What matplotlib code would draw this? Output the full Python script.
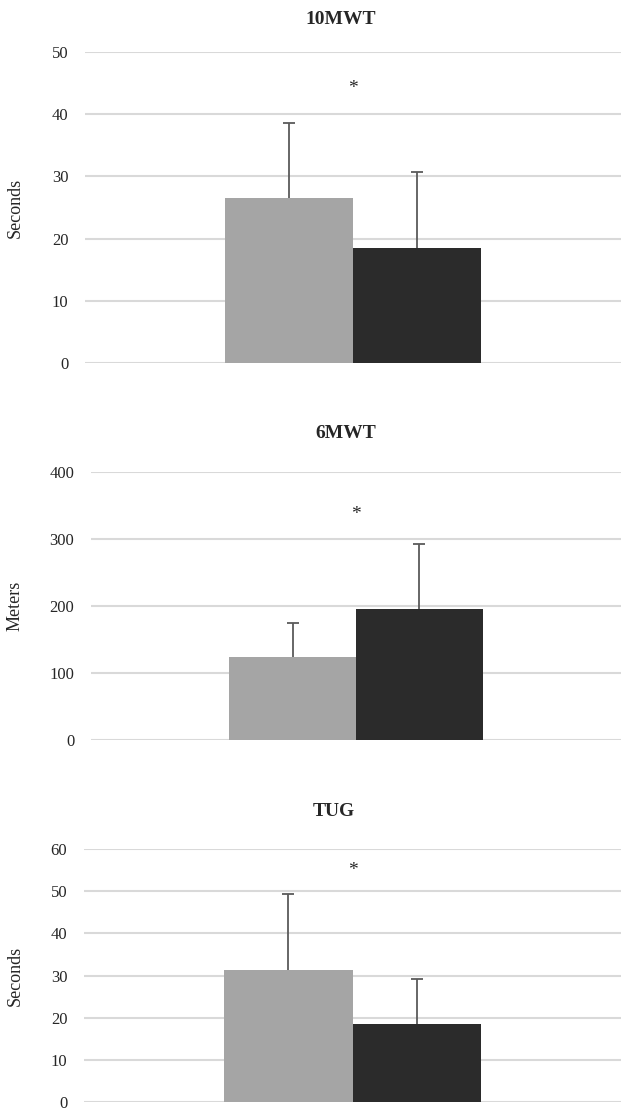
import matplotlib.pyplot as plt

# group means and standard deviations per outcome measure
tests = ["10MWT", "6MWT", "TUG"]
units = ["Seconds", "Meters", "Seconds"]
pre_mean = [26.5, 124.5, 31.4]
pre_sd = [12.1, 50.8, 17.9]
post_mean = [18.5, 195.7, 18.4]
post_sd = [12.2, 97.1, 10.7]
y_max = [50, 400, 60]
y_step = [10, 100, 10]
star_y = [44.2, 337, 55]

plt.rcParams['font.family'] = ['Liberation Serif', 'DejaVu Serif']

W, H = 621, 1111
fig = plt.figure(figsize=(W / 100, H / 100), dpi=100)

# axes boxes in pixels: left, top, bottom
boxes = [(85, 52, 363), (91, 472, 740), (84, 849, 1102)]
title_pos = [(341, 19), (346, 433), (334, 812)]

bar_w = 0.239
for i, name in enumerate(tests):
    left, top, bottom = boxes[i]
    ax = fig.add_axes([left / W, 1 - bottom / H, (W - left) / W, (bottom - top) / H])
    ax.set_xlim(-0.5, 0.5)
    ax.set_ylim(0, y_max[i])
    ax.set_yticks(range(0, y_max[i] + 1, y_step[i]))
    ax.set_xticks([])
    ax.yaxis.grid(True, color='#d9d9d9', linewidth=1.5)
    ax.set_axisbelow(True)
    for s in ax.spines.values():
        s.set_visible(False)
    ax.tick_params(axis='y', length=0, pad=12, labelsize=12, labelcolor='#262626')

    xs = [-bar_w / 2, bar_w / 2]
    means = [pre_mean[i], post_mean[i]]
    sds = [pre_sd[i], post_sd[i]]
    ax.bar(xs, means, width=bar_w, color=['#a5a5a5', '#2b2b2b'], zorder=3)

    # upper whisker only, with a cap at its end
    tops = [m + s for m, s in zip(means, sds)]
    ax.vlines(xs, means, tops, color='#5a5a5a', linewidth=1.3, zorder=4)
    ax.plot(xs, tops, ls='none', marker='_', markersize=8, mew=1.3,
            color='#5a5a5a', zorder=4)

    ax.text(0, star_y[i], "*", ha='center', va='center', fontsize=14, color='#262626')

    ax.set_ylabel(units[i], fontsize=13, color='#262626')
    ax.yaxis.set_label_coords((24 - left) / (W - left), 0.5)

    tx, ty = title_pos[i]
    fig.text(tx / W, 1 - ty / H, name, ha='center', va='center',
             fontsize=14, fontweight='bold', color='#262626')

fig.savefig("out.png", dpi=100)
